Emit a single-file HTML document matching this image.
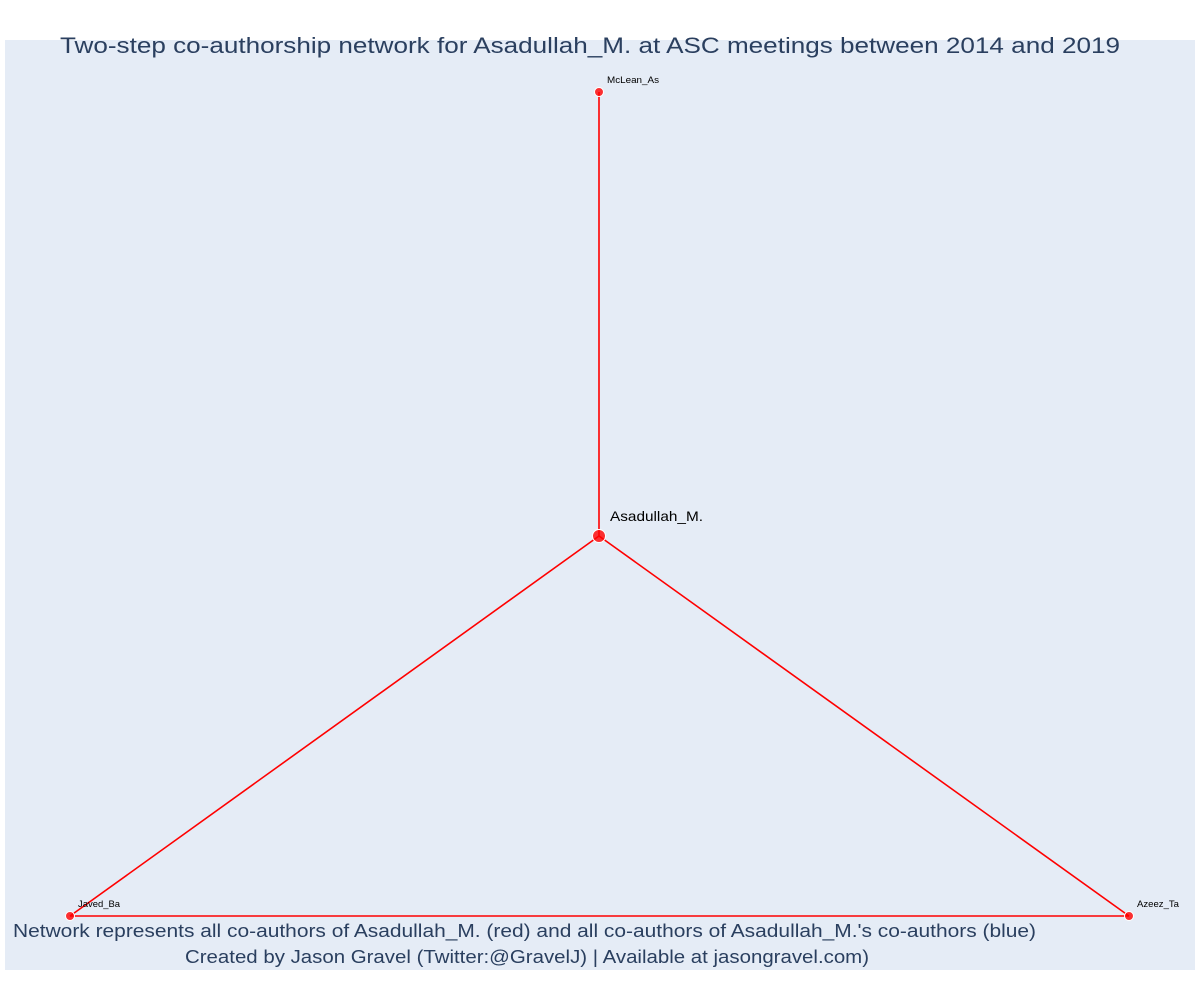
<!DOCTYPE html>
<html><head><style>
body{margin:0;width:1200px;height:1000px;background:#fff;overflow:hidden;font-family:"Liberation Sans",sans-serif}
</style></head><body>
<svg width="1200" height="1000" xmlns="http://www.w3.org/2000/svg" style="position:absolute;left:0;top:0">
<rect x="5" y="40" width="1190" height="930" fill="#e5ecf6"/>
<g stroke="#ff0000" stroke-width="1.6">
<line x1="599" y1="92" x2="599" y2="536"/>
<line x1="599" y1="536" x2="70" y2="916"/>
<line x1="599" y1="536" x2="1129" y2="916"/>
<line x1="70" y1="916" x2="1129" y2="916"/>
</g>
<g fill="#ff0000" fill-opacity="0.8" stroke="#fff" stroke-width="1">
<circle cx="599" cy="92" r="4.5"/>
<circle cx="70" cy="916" r="4.5"/>
<circle cx="1129" cy="916" r="4.5"/>
<circle cx="599" cy="536" r="6.5"/>
</g>
<g font-family="Liberation Sans, sans-serif" fill="#000">
<text x="607" y="83" font-size="9" textLength="52" lengthAdjust="spacingAndGlyphs">McLean_As</text>
<text x="78" y="907" font-size="9" textLength="42" lengthAdjust="spacingAndGlyphs">Javed_Ba</text>
<text x="1137" y="907" font-size="9" textLength="42" lengthAdjust="spacingAndGlyphs">Azeez_Ta</text>
<text x="610" y="521" font-size="14" textLength="93" lengthAdjust="spacingAndGlyphs">Asadullah_M.</text>
</g>
<g fill="#2a3f5f" font-family="Liberation Sans, sans-serif">
<text x="60" y="53" font-size="22" textLength="1060" lengthAdjust="spacingAndGlyphs">Two-step co-authorship network for Asadullah_M. at ASC meetings between 2014 and 2019</text>
<text x="13" y="937" font-size="18" textLength="1023" lengthAdjust="spacingAndGlyphs">Network represents all co-authors of Asadullah_M. (red) and all co-authors of Asadullah_M.'s co-authors (blue)</text>
<text x="185" y="963" font-size="18" textLength="684" lengthAdjust="spacingAndGlyphs">Created by Jason Gravel (Twitter:@GravelJ) | Available at jasongravel.com)</text>
</g>
</svg>
</body></html>
